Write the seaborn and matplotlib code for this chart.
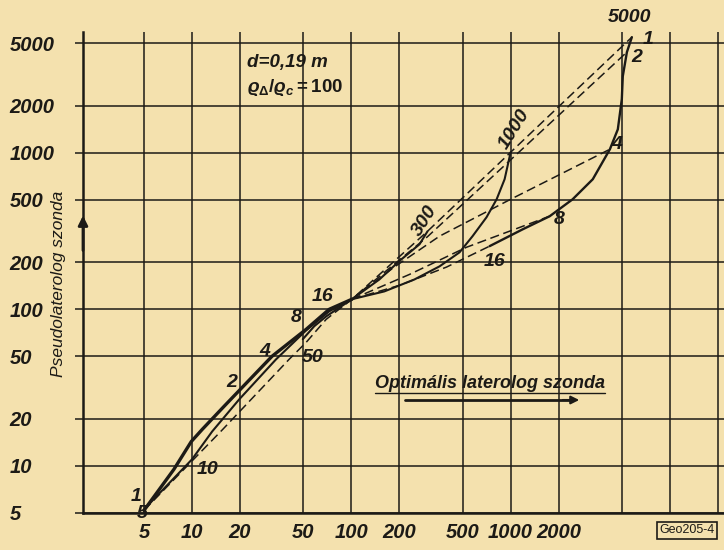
import matplotlib.pyplot as plt
import seaborn as sns
from matplotlib.lines import Line2D
from matplotlib.ticker import NullLocator

# optimal laterolog (x) vs pseudolaterolog (y) readings
# solid curves: constant Rt, running from D/d = 1 towards the common point
rt5_x = [5.0, 7.7, 9.9, 11.6, 15.9, 31.8, 52.1, 72.7, 101]
rt5_y = [5.2, 9.5, 14.3, 17.1, 24.0, 50.1, 74.5, 100, 116]
rt10_x = [5.2, 10.0, 13.4, 19.8, 33.7, 52.1, 72.7, 101]
rt10_y = [5.5, 11.0, 16.6, 26.6, 47.9, 73.4, 97.1, 116]
rt50_x = [49.6, 58.5, 69.7, 101]
rt50_y = [64.4, 77.9, 90.2, 116]
rt300_x = [301, 268, 200, 150, 101]
rt300_y = [315, 260, 203, 155, 116]
rt1000_x = [1000, 917, 817, 706, 577, 478, 358, 249, 161, 101]
rt1000_y = [1006, 677, 504, 387, 293, 231, 188, 155, 130, 116]
rt5000_x = [5770, 5370, 5060, 4990, 4710, 4200, 3280, 2450, 1760, 1190, 738]
rt5000_y = [5470, 4390, 3080, 2200, 1410, 1052, 677, 504, 393, 324, 253]

# dashed curves: constant D/d
dd1_x = [5.0, 15.6, 40.7, 52.1, 69.6, 101, 301, 1000, 5770]
dd1_y = [5.2, 17.1, 47.9, 61.5, 86.3, 116, 315, 1006, 5470]
dd2_x = [101, 300, 1000, 5370]
dd2_y = [116, 290, 900, 4390]
dd4_x = [101, 186, 358, 1000, 4200]
dd4_y = [116, 186, 293, 504, 1052]
dd8_x = [101, 232, 529, 1760]
dd8_y = [116, 167, 249, 393]
dd16_x = [101, 200, 396, 738]
dd16_y = [116, 142, 186, 253]

x_ticks = [5, 10, 20, 50, 100, 200, 500, 1000, 2000, 5000, 10000, 20000]
x_labels = ["5", "10", "20", "50", "100", "200", "500", "1000", "2000", "", "", ""]
y_ticks = [5, 10, 20, 50, 100, 200, 500, 1000, 2000, 5000]
y_labels = ["5", "10", "20", "50", "100", "200", "500", "1000", "2000", "5000"]

rt_names = ["5", "10", "50", "300", "1000", "5000"]
dd_names = ["1", "2", "4", "8", "16"]

paper = "#f4e1ae"
ink = "#1c1a16"

sns.set_theme(style="ticks")
plt.rcParams["font.family"] = ["Liberation Sans", "DejaVu Sans"]
plt.rcParams["mathtext.fontset"] = "custom"
plt.rcParams["mathtext.it"] = "Liberation Sans:italic:bold"
plt.rcParams["mathtext.rm"] = "Liberation Sans:bold"

W, H = 724, 550
fig = plt.figure(figsize=(W / 100, H / 100), dpi=100, facecolor=paper)
ax = fig.add_axes([83 / W, (H - 513) / H, (W - 83) / W, (513 - 32) / H])
ax.set_facecolor(paper)


def fpx(px, py):
    return px / W, 1 - py / H


ax.set(xscale="log", yscale="log")

solid = [(rt5_x, rt5_y, 2.4), (rt10_x, rt10_y, 1.5), (rt50_x, rt50_y, 1.5),
         (rt300_x, rt300_y, 1.5), (rt1000_x, rt1000_y, 1.5), (rt5000_x, rt5000_y, 1.7)]
for xs, ys, lw in solid:
    sns.lineplot(x=xs, y=ys, sort=False, estimator=None, ax=ax, color=ink, lw=lw)

dashed = [(dd1_x, dd1_y), (dd2_x, dd2_y), (dd4_x, dd4_y), (dd8_x, dd8_y), (dd16_x, dd16_y)]
for xs, ys in dashed:
    sns.lineplot(x=xs, y=ys, sort=False, estimator=None, ax=ax, color=ink,
                 lw=1.1, linestyle=(0, (6, 3)))

ax.set_xlim(2.07, 21850)
ax.set_ylim(5.0, 5900)
ax.set_xticks(x_ticks)
ax.set_xticklabels(x_labels)
ax.set_yticks(y_ticks)
ax.set_yticklabels(y_labels)
ax.xaxis.set_minor_locator(NullLocator())
ax.yaxis.set_minor_locator(NullLocator())
ax.grid(True, which="major", color=ink, lw=1.1)
ax.set_axisbelow(True)
for s in ["top", "right"]:
    ax.spines[s].set_visible(False)
for s in ["left", "bottom"]:
    ax.spines[s].set_color(ink)
    ax.spines[s].set_linewidth(1.8)

tick_font = dict(size=14.5, style="italic", weight="bold", color=ink)
ax.tick_params(axis="y", length=6, width=1.1, color=ink, pad=47)
ax.tick_params(axis="x", length=0, pad=7)
for lab in ax.get_yticklabels():
    lab.set(ha="left", **tick_font)
for lab in ax.get_xticklabels():
    lab.set(**tick_font)

lab_font = dict(size=14, style="italic", weight="bold", color=ink, ha="center", va="center")
# Rt labels
rt_pos = [(4.9, 5.0, 0), (12.5, 9.5, 0), (57, 49.4, 0), (288, 365, 58), (1060, 1411, 58), (5600, 7300, 0)]
for name, (x, y, rot) in zip(rt_names, rt_pos):
    ax.text(x, y, name, rotation=rot, **lab_font)
# D/d labels, upper end and lower end
dd_top = [(7270, 5300), (6200, 4080), (4640, 1130), (2030, 376), (793, 203)]
dd_bot = [(4.45, 6.4), (17.7, 34.1), (28.5, 53.9), (45.0, 88.9), (65.7, 121)]
for name, (x, y) in zip(dd_names, dd_top):
    ax.text(x, y, name, **lab_font)
for name, (x, y) in zip(dd_names, dd_bot):
    ax.text(x, y, name, **lab_font)

fig.text(*fpx(247, 62), "d=0,19 m", size=13.5, style="italic", weight="bold",
         color=ink, ha="left", va="center")
fig.text(*fpx(247, 88), r"$\varrho_{\Delta}/\varrho_{c}=100$", size=13.5,
         color=ink, ha="left", va="center")

fig.text(*fpx(58, 284), "Pseudolaterolog szonda", rotation=90, size=12.5,
         style="italic", color=ink, ha="center", va="center")
fig.text(*fpx(375, 383), "Optimális laterolog szonda", size=13, style="italic",
         weight="bold", color=ink, ha="left", va="center")
fig.add_artist(Line2D([375 / W, 605 / W], [1 - 393 / H, 1 - 393 / H], color=ink, lw=1.0))
fig.add_artist(Line2D([405 / W, 570 / W], [1 - 400 / H, 1 - 400 / H], color=ink, lw=2.0))
ax.annotate("", xy=fpx(582, 400), xytext=fpx(560, 400), xycoords="figure fraction",
            arrowprops=dict(arrowstyle="-|>", color=ink, lw=1.5, mutation_scale=12))

# arrow on the vertical axis
ax.annotate("", xy=(0, 0.624), xytext=(0, 0.54), xycoords="axes fraction",
            arrowprops=dict(arrowstyle="-|>", color=ink, lw=2.0, mutation_scale=14))

fig.text(*fpx(687, 530), "Geo205-4", size=9, color=ink, ha="center", va="center",
         bbox=dict(boxstyle="square,pad=0.2", fc=paper, ec=ink, lw=1.2))

fig.savefig("out.png", dpi=100, facecolor=paper)
